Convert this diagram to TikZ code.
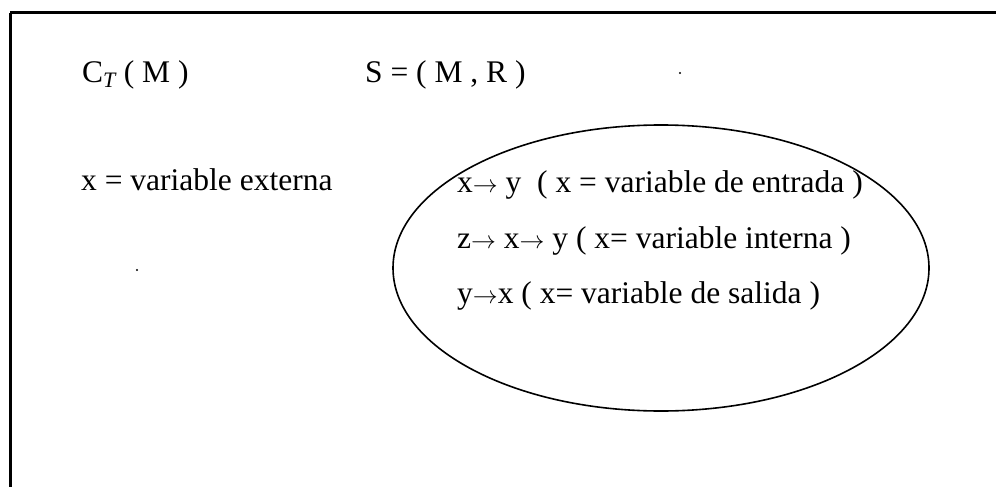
\documentclass[tikz,border=0pt]{standalone}
\usepackage{fontspec}
\setmainfont{Liberation Serif}

\newcommand{\toarr}{\ensuremath{\rightarrow}}

\tikzset{
  plain text/.style={anchor=base west, inner sep=0pt, font=\fontsize{31.5}{38}\selectfont},
  frame line/.style={line width=3pt},
}

\begin{document}
\begin{tikzpicture}[x=1pt,y=-1pt]
\useasboundingbox (0,0) rectangle (996,487);

% draw frame (only top and left edges are seen)
\coordinate (tl) at (10,13);
\coordinate (bl) at (10,487);
\coordinate (tr) at (996,13);
\draw[frame line] (tl) -- (bl);
\draw[frame line] (tl) -- (tr);

% top row
\node[plain text] (ctm) at (82,82) {C\textsubscript{\itshape T} ( M )};
\node[plain text] (smr) at (365,82) {S = ( M , R )};

% left text
\node[plain text] (ext) at (81,190) {x = variable externa};

% texts in the ellipse
\node[plain text] (ent) at (457,192) {x\toarr{} y \ ( x = variable de entrada )};
\node[plain text] (int) at (457,248) {z\toarr{} x\toarr{} y ( x= variable interna )};
\node[plain text] (sal) at (457,303) {y\toarr{}x ( x= variable de salida )};

% draw ellipse
\draw[line width=1.6pt] (661,268) ellipse [x radius=268, y radius=143];

% stray dots
\fill (680,73) circle (1.2);
\fill (137,270) circle (1.2);

\end{tikzpicture}
\end{document}
